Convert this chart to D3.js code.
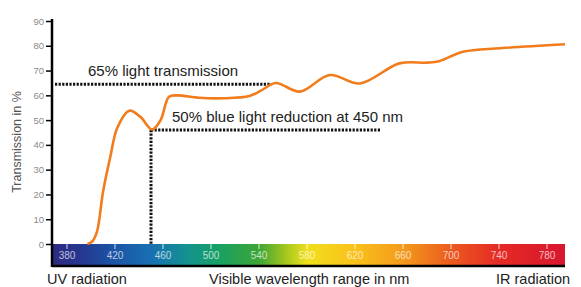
<!DOCTYPE html>
<html>
<head>
<meta charset="utf-8">
<script src="https://cdn.jsdelivr.net/npm/d3@7"></script>
<style>
  body { margin: 0; background: #fff; }
  svg { display: block; font-family: "Liberation Sans", Arial, Helvetica, sans-serif; }
</style>
</head>
<body>
<svg id="canvas" width="581" height="287"></svg>
<script>
// transmission curve
var wavelengths = [397, 401, 405, 410, 416, 422, 432, 441, 451, 458, 465, 472, 490, 510, 532, 542, 554, 574, 599, 624, 657, 680, 690, 710, 741, 795];
var transmission = [0, 1, 5, 21, 35, 47, 53.8, 51.4, 46.2, 50, 59.4, 60, 59, 58.8, 59.7, 62, 65, 61.5, 68.2, 64.8, 72.9, 73.2, 73.8, 77.6, 79, 80.6];

var yTicks = [0, 10, 20, 30, 40, 50, 60, 70, 80, 90];
var xTicks = [380, 420, 460, 500, 540, 580, 620, 660, 700, 740, 780];

// spectrum bar colour stops (nm -> colour)
var spectrumNm = [368, 390, 420, 450, 480, 505, 540, 562, 580, 620, 660, 700, 740, 795];
var spectrumColors = ["#2e2a80", "#25368f", "#1c55a6", "#1870b2", "#13928f", "#17a066", "#3ea536", "#a3c61f", "#f0df1c", "#fac11a", "#f39a1c", "#eb5a1f", "#e42a25", "#d8162e"];

// annotations
var transLevel = 64.5, transFrom = 370, transTo = 550;
var blueNm = 450, blueLevel = 46, blueTo = 641;

var svg = d3.select("#canvas");
var x = d3.scaleLinear().domain([380, 780]).range([67, 547]);
var y = d3.scaleLinear().domain([0, 90]).range([244, 21]);

// spectrum gradient
var grad = svg.append("defs").append("linearGradient")
    .attr("id", "spec")
    .attr("gradientUnits", "userSpaceOnUse")
    .attr("x1", x(368)).attr("x2", x(795)).attr("y1", 0).attr("y2", 0);
for (var i = 0; i < spectrumNm.length; i++) {
    grad.append("stop")
        .attr("offset", (spectrumNm[i] - 368) / (795 - 368))
        .attr("stop-color", spectrumColors[i]);
}
var barX0 = 52, barX1 = x(795);
svg.append("rect")
    .attr("x", barX0).attr("y", y(0))
    .attr("width", barX1 - barX0).attr("height", 21)
    .attr("fill", "url(#spec)");
svg.append("line")
    .attr("x1", barX0).attr("x2", barX1)
    .attr("y1", y(0) + 22).attr("y2", y(0) + 22)
    .attr("stroke", "#000").attr("stroke-width", 2.5);

// x ticks on the bar
var xt = svg.append("g");
xTicks.forEach(function(t) {
    xt.append("line")
        .attr("x1", x(t)).attr("x2", x(t))
        .attr("y1", y(0)).attr("y2", y(0) + 5)
        .attr("stroke", "#fff").attr("stroke-opacity", 0.8).attr("stroke-width", 1);
    xt.append("text")
        .attr("x", x(t)).attr("y", y(0) + 15)
        .attr("text-anchor", "middle")
        .attr("font-size", 10)
        .attr("fill", "#fff").attr("fill-opacity", 0.7)
        .text(t);
});

// y axis
var yAxis = d3.axisLeft(y).tickValues(yTicks).tickSize(6).tickSizeOuter(0);
var ya = svg.append("g").attr("transform", "translate(52,0)").call(yAxis);
ya.select(".domain").remove();
ya.selectAll(".tick line").attr("stroke", "#000").attr("stroke-width", 1.5);
ya.selectAll(".tick text").attr("fill", "#8a8a8a").attr("font-size", 9.5).attr("x", -8)
    .attr("font-family", "Liberation Sans, Arial, sans-serif");
svg.append("line")
    .attr("x1", 52).attr("x2", 52)
    .attr("y1", y(90) - 2).attr("y2", y(0) + 23)
    .attr("stroke", "#000").attr("stroke-width", 2.5);

svg.append("text")
    .attr("transform", "translate(21," + 142 + ") rotate(-90)")
    .attr("text-anchor", "middle")
    .attr("font-size", 12.5)
    .attr("fill", "#555")
    .text("Transmission in %");

// dotted annotation lines
function dotted(x1, y1, x2, y2) {
    svg.append("line")
        .attr("x1", x1).attr("y1", y1).attr("x2", x2).attr("y2", y2)
        .attr("stroke", "#111").attr("stroke-width", 3)
        .attr("stroke-dasharray", "2.2,1.4");
}
dotted(x(transFrom), y(transLevel), x(transTo), y(transLevel));
dotted(x(blueNm), y(blueLevel), x(blueTo), y(blueLevel));
dotted(x(blueNm), y(blueLevel), x(blueNm), y(0));

// curve
var data = wavelengths.map(function(d, i) { return { nm: d, v: transmission[i] }; });
var line = d3.line()
    .x(function(d) { return x(d.nm); })
    .y(function(d) { return y(d.v); })
    .curve(d3.curveCatmullRom.alpha(0.5));
svg.append("path")
    .datum(data)
    .attr("d", line)
    .attr("fill", "none")
    .attr("stroke", "#f17c1c")
    .attr("stroke-width", 2.6)
    .attr("stroke-linejoin", "round");

// annotation labels
svg.append("text")
    .attr("x", 88).attr("y", 76)
    .attr("font-size", 15).attr("fill", "#222")
    .text("65% light transmission");
svg.append("text")
    .attr("x", 172).attr("y", 122)
    .attr("font-size", 15).attr("fill", "#222")
    .text("50% blue light reduction at 450 nm");

// bottom captions
var captions = [
    { t: "UV radiation", x: 47 },
    { t: "Visible wavelength range in nm", x: 209 },
    { t: "IR radiation", x: 496 }
];
captions.forEach(function(c) {
    svg.append("text")
        .attr("x", c.x).attr("y", 283.5)
        .attr("font-size", 14.5).attr("fill", "#222")
        .text(c.t);
});
</script>
</body>
</html>
